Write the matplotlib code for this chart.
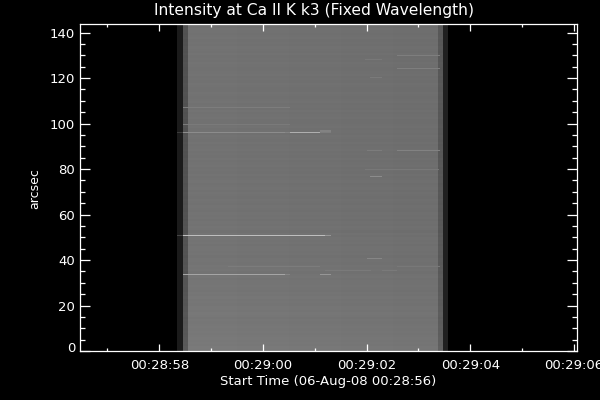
import matplotlib
matplotlib.use("Agg")
import matplotlib.pyplot as plt
import numpy as np
from matplotlib.ticker import FixedLocator, FuncFormatter, MultipleLocator
from matplotlib.transforms import ScaledTranslation

title = "Intensity at Ca II K k3 (Fixed Wavelength)"
x_label = "Start Time (06-Aug-08 00:28:56)"
y_label = "arcsec"

x_limits = [56.47, 66.05]
y_limits = [0, 144]
x_major = [58, 60, 62, 64, 66]
x_tick_labels = ["00:28:58", "00:29:00", "00:29:02", "00:29:04", "00:29:06"]
y_major = [0, 20, 40, 60, 80, 100, 120, 140]

# Scan columns: edges in seconds, base brightness (0-255)
column_edges = [58.34, 58.46, 58.55, 59.0, 59.5, 60.0, 60.5, 61.0, 61.5, 62.0, 62.5, 63.0, 63.38, 63.48, 63.57]
column_levels = [27, 82, 114, 114, 113, 113, 112, 112, 111, 111, 110, 110, 88, 32]

# Row offset per arcsec, from bottom (0) to top (143)
row_offsets = [
    7, 8, 6, 7, 6, 7, 6, 5, 6, 5, 6, 5, 4, 5, 3, 5, 6, 4, 5, 5,
    3, 4, 3, 5, 3, 4, 2, 3, 4, 3, 3, 2, 4, 3, 1, 3, 2, 3, 1, 2,
    2, 0, 2, 1, 2, 2, 0, 2, 1, 2, 0, 2, -1, 1, 2, 0, 1, -1, 1, 0,
    1, -1, 0, 1, -1, 0, 1, -1, 0, 1, -1, 1, 0, -1, 1, 0, -1, 1, -1, 0,
    -1, 1, 0, -1, 1, -1, 0, -1, 1, 0, -1, 1, -1, 0, 1, -1, 0, -1, 1, 0,
    -1, -1, 1, 0, -1, 1, -1, 0, -1, 1, 0, -1, 0, 1, -1, -1, 0, 1, -1, 0,
    -1, 1, 0, -1, -1, 0, 1, -1, 0, -1, 1, -1, 0, 1, -1, 0, -1, 1, 0, -1,
    0, 1, -1, 0,
]

# Bright streaks: arcsec, start s, end s, brightness
streak_y = [50.6, 50.6, 50.6,
            33.5, 33.5, 33.5,
            96.2, 96.2, 96.2, 96.2, 96.2, 96.7,
            107.0, 99.5,
            88.0, 88.0, 76.6, 79.7, 40.5,
            35.0, 35.0, 37.4, 37.0,
            129.5, 124.0, 128.0, 120.0]
streak_t0 = [58.34, 58.46, 61.20,
             58.46, 60.43, 61.10,
             58.34, 58.46, 60.43, 60.52, 61.10, 61.10,
             58.46, 58.46,
             62.00, 62.59, 62.07, 61.97, 62.00,
             61.20, 62.30, 62.59, 59.33,
             62.59, 62.59, 61.97, 62.07]
streak_t1 = [58.46, 61.20, 61.31,
             60.43, 60.52, 61.31,
             58.46, 60.43, 60.52, 61.10, 61.31, 61.31,
             60.52, 60.52,
             62.30, 63.42, 62.30, 63.40, 62.30,
             62.09, 62.59, 63.42, 61.10,
             63.42, 63.42, 62.30, 62.30]
streak_level = [70, 190, 150,
                165, 132, 150,
                60, 140, 130, 175, 125, 130,
                125, 122,
                124, 130, 140, 120, 134,
                122, 122, 120, 124,
                126, 126, 120, 122]

row_edges = np.arange(2 * len(row_offsets) + 1) / 2
image = np.add.outer(np.repeat(row_offsets, 2), np.array(column_levels), dtype=float)
image[:, 0] = column_levels[0]
image[:, -1] = column_levels[-1]
edges = np.array(column_edges)

# Finer columns so streak ends fall where they should
fine_edges = np.unique(np.concatenate([edges, streak_t0, streak_t1]))
fine_centers = 0.5 * (fine_edges[:-1] + fine_edges[1:])
col_index = np.searchsorted(edges, fine_centers) - 1
fine = image[:, col_index].copy()
for yv, t0, t1, lev in zip(streak_y, streak_t0, streak_t1, streak_level):
    row = int(yv * 2)
    mask = (fine_centers > t0) & (fine_centers < t1)
    fine[row, mask] = lev

plt.rcParams["font.family"] = ["DejaVu Sans"]
fig = plt.figure(figsize=(6, 4), dpi=100, facecolor="black")
ax = fig.add_axes([80 / 600, 1 - 351 / 400, 496.5 / 600, 327.5 / 400], facecolor="black")
ax.pcolormesh(fine_edges, row_edges, fine, cmap="gray", vmin=0, vmax=255,
              shading="flat", rasterized=True, linewidth=0)
ax.set_xlim(x_limits)
ax.set_ylim(y_limits)

for s in ax.spines.values():
    s.set_color("white")
    s.set_linewidth(0.9)

ax.xaxis.set_major_locator(FixedLocator(x_major))
ax.xaxis.set_minor_locator(MultipleLocator(1))
ax.xaxis.set_major_formatter(FuncFormatter(lambda v, p: x_tick_labels[x_major.index(int(round(v)))]))
ax.yaxis.set_major_locator(FixedLocator(y_major))
ax.yaxis.set_minor_locator(MultipleLocator(5))
ax.tick_params(axis="x", which="major", direction="in", top=True, bottom=True, length=5, width=0.9,
               color="white", labelcolor="white", labelsize=9.5, pad=6)
ax.tick_params(axis="x", which="minor", direction="in", top=True, bottom=True, length=2.5, width=0.9, color="white")
ax.tick_params(axis="y", which="major", direction="in", left=True, right=True, length=7.2, width=0.9,
               color="white", labelcolor="white", labelsize=9.5, pad=3.5)
ax.tick_params(axis="y", which="minor", direction="in", left=True, right=True, length=3.6, width=0.9, color="white")

zero_label = ax.get_yticklabels()[0]
zero_label.set_transform(zero_label.get_transform() + ScaledTranslation(0, 4 / 100, fig.dpi_scale_trans))

fig.text(314 / 600, 1 - 11 / 400, title, color="white", fontsize=11.2, ha="center", va="center")
fig.text(328 / 600, 1 - 381 / 400, x_label, color="white", fontsize=9.5, ha="center", va="center")
fig.text(35 / 600, 1 - 189 / 400, y_label, color="white", fontsize=9, rotation=90, ha="center", va="center")

fig.savefig("out.png", dpi=100, facecolor="black")
